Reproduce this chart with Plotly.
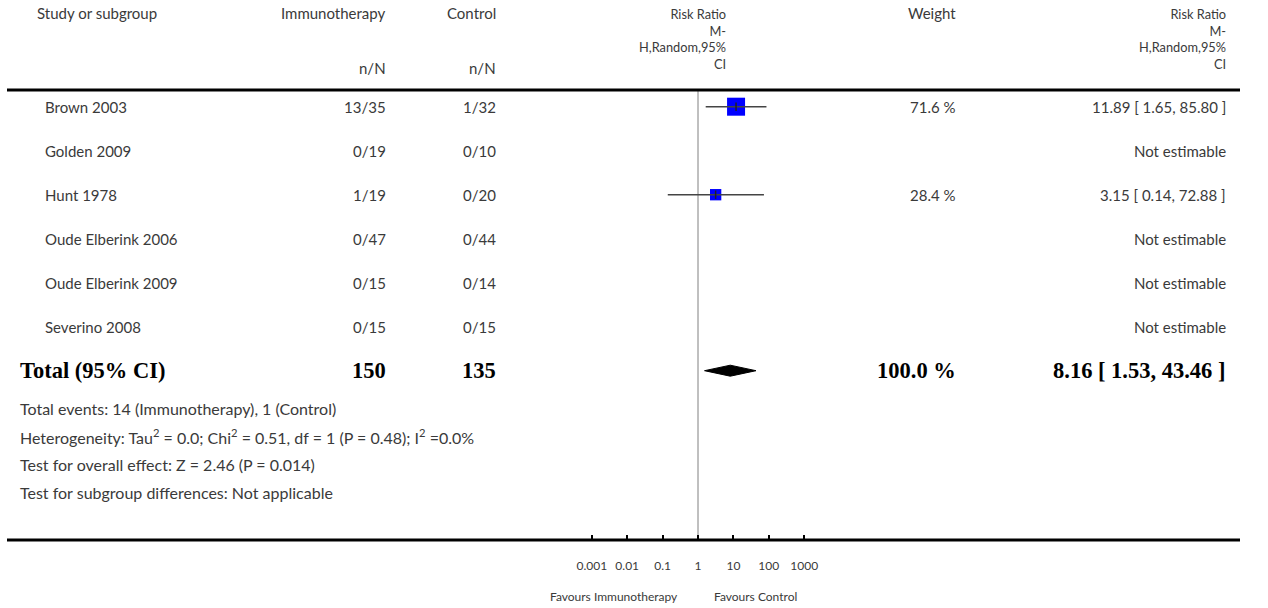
import math
import plotly.graph_objects as go

# ---------------- data ----------------
studies = ["Brown 2003", "Golden 2009", "Hunt 1978", "Oude Elberink 2006",
           "Oude Elberink 2009", "Severino 2008"]
imm_events = [13, 0, 1, 0, 0, 0]
imm_total = [35, 19, 19, 47, 15, 15]
ctrl_events = [1, 0, 0, 0, 0, 0]
ctrl_total = [32, 10, 20, 44, 14, 15]
rr = [11.89, None, 3.15, None, None, None]
rr_lo = [1.65, None, 0.14, None, None, None]
rr_hi = [85.80, None, 72.88, None, None, None]
weights = [71.6, None, 28.4, None, None, None]

total_label = "Total (95% CI)"
total_imm = 150
total_ctrl = 135
total_rr = 8.16
total_lo = 1.53
total_hi = 43.46
total_weight = 100.0

footer_lines = [
    "Total events: 14 (Immunotherapy), 1 (Control)",
    "Heterogeneity: Tau<sup>2</sup> = 0.0; Chi<sup>2</sup> = 0.51, df = 1 (P = 0.48); I<sup>2</sup> =0.0%",
    "Test for overall effect: Z = 2.46 (P = 0.014)",
    "Test for subgroup differences: Not applicable",
]

rr_header = ["Risk Ratio", "M-", "H,Random,95%", "CI"]
tick_vals = [0.001, 0.01, 0.1, 1, 10, 100, 1000]
tick_text = ["0.001", "0.01", "0.1", "1", "10", "100", "1000"]
favours_left = "Favours Immunotherapy"
favours_right = "Favours Control"

# ---------------- layout geometry ----------------
W, H = 1268, 608
FONT = "Lato"
TXT = "#3a3a3a"
FS = 15


def fx(p):
    return p / W


def fy(p):
    return 1 - p / H


ROW0 = 106.7
ROWH = 44.0
PLOT_TOP, PLOT_BOT = 90, 540
y_top = (PLOT_TOP - ROW0) / ROWH
y_bot = (PLOT_BOT - ROW0) / ROWH

X1 = 698
DEC = 35.4
dom = [fx(X1 - 5 * DEC), fx(X1 + 5 * DEC)]

COL_STUDY = 43
COL_STUDY_HDR = 35
COL_TOTAL = 18
COL_IMM = 388
COL_CTRL = 498
COL_RRH = 728
COL_W = 958
COL_RR = 1228

fig = go.Figure()

# null line
fig.add_trace(go.Scatter(x=[1, 1], y=[y_top, y_bot], mode="lines",
                         line=dict(color="#808080", width=1), hoverinfo="skip"))

# squares
sq_x, sq_y, sq_s = [], [], []
for i, (r, w) in enumerate(zip(rr, weights)):
    if r is not None:
        sq_x.append(r)
        sq_y.append(i)
        sq_s.append(18 * math.sqrt(w / 71.6))
fig.add_trace(go.Scatter(x=sq_x, y=sq_y, mode="markers",
                         marker=dict(symbol="square", size=sq_s, color="#0000ff",
                                     opacity=1, line=dict(width=0))))

# CI lines
ci_x, ci_y = [], []
for i, (lo, hi) in enumerate(zip(rr_lo, rr_hi)):
    if lo is not None:
        ci_x += [lo, hi, None]
        ci_y += [i, i, None]
fig.add_trace(go.Scatter(x=ci_x, y=ci_y, mode="lines",
                         line=dict(color="#444444", width=1.6)))
# estimate tick
fig.add_trace(go.Scatter(x=sq_x, y=sq_y, mode="markers",
                         marker=dict(symbol="line-ns", size=6, opacity=1,
                                     line=dict(color="#222222", width=1.5))))

# diamond
ti = len(studies)
dh = 5.5 / ROWH
fig.add_trace(go.Scatter(x=[total_lo, total_rr, total_hi, total_rr, total_lo],
                         y=[ti, ti - dh, ti, ti + dh, ti], mode="lines",
                         fill="toself", fillcolor="black",
                         line=dict(color="black", width=1)))

ann = []


def add(text, x, y, xanchor, yref="paper", size=FS, family=FONT, color=TXT,
        yanchor="middle", **kw):
    ann.append(dict(text=text, x=x, y=y, xref=kw.pop("xref", "paper"), yref=yref,
                    xanchor=xanchor, yanchor=yanchor, showarrow=False,
                    font=dict(family=family, size=size, color=color), **kw))


# header
add("Study or subgroup", fx(COL_STUDY_HDR), fy(13), "left")
add("Immunotherapy", fx(COL_IMM), fy(13), "right")
add("Control", fx(COL_CTRL), fy(13), "right")
add("n/N", fx(COL_IMM), fy(68), "right")
add("n/N", fx(COL_CTRL), fy(68), "right")
hdr = "<br>".join(rr_header)
add(hdr, fx(COL_RRH), fy(4), "right", yanchor="top", size=12.8, align="right")
add(hdr, fx(COL_RR), fy(4), "right", yanchor="top", size=12.8, align="right")
add("Weight", fx(COL_W), fy(13), "right")

# rows
for i, s in enumerate(studies):
    add(s, fx(COL_STUDY), i, "left", yref="y")
    add(f"{imm_events[i]}/{imm_total[i]}", fx(COL_IMM), i, "right", yref="y")
    add(f"{ctrl_events[i]}/{ctrl_total[i]}", fx(COL_CTRL), i, "right", yref="y")
    if rr[i] is not None:
        add(f"{weights[i]:.1f} %", fx(COL_W), i, "right", yref="y")
        add(f"{rr[i]:.2f} [ {rr_lo[i]:.2f}, {rr_hi[i]:.2f} ]", fx(COL_RR), i, "right", yref="y")
    else:
        add("Not estimable", fx(COL_RR), i, "right", yref="y")

# total row
BF = "Liberation Serif"
BS = 22.5
add(f"<b>{total_label}</b>", fx(COL_TOTAL), ti, "left", yref="y", size=BS, family=BF, color="black")
add(f"<b>{total_imm}</b>", fx(COL_IMM), ti, "right", yref="y", size=BS, family=BF, color="black")
add(f"<b>{total_ctrl}</b>", fx(COL_CTRL), ti, "right", yref="y", size=BS, family=BF, color="black")
add(f"<b>{total_weight:.1f} %</b>", fx(COL_W), ti, "right", yref="y", size=BS, family=BF, color="black")
add(f"<b>{total_rr:.2f} [ {total_lo:.2f}, {total_hi:.2f} ]</b>", fx(COL_RR), ti, "right",
    yref="y", size=BS, family=BF, color="black")

for k, line in enumerate(footer_lines):
    add(line, fx(COL_TOTAL), fy(408 + 28.3 * k), "left", size=16)

# favours
add(favours_left, 0, fy(596), "right", xref="x", xshift=-18, size=12)
add(favours_right, 0, fy(596), "left", xref="x", xshift=14, size=12)

shapes = [
    dict(type="line", xref="paper", yref="paper", x0=fx(7), x1=fx(1240),
         y0=fy(90), y1=fy(90), line=dict(color="black", width=3)),
    dict(type="line", xref="paper", yref="paper", x0=fx(7), x1=fx(1240),
         y0=fy(540), y1=fy(540), line=dict(color="black", width=3)),
]

fig.update_layout(
    width=W, height=H, margin=dict(l=0, r=0, t=0, b=0),
    paper_bgcolor="white", plot_bgcolor="rgba(0,0,0,0)",
    showlegend=False, annotations=ann, shapes=shapes,
    xaxis=dict(type="log", range=[-5, 5], domain=dom, tickvals=tick_vals,
               ticktext=tick_text, ticks="inside", ticklen=5, tickwidth=2,
               tickcolor="black", showgrid=False, zeroline=False, showline=False,
               ticklabelstandoff=17, tickfont=dict(family=FONT, size=12, color=TXT),
               fixedrange=True),
    yaxis=dict(range=[y_bot, y_top], domain=[fy(PLOT_BOT), fy(PLOT_TOP)],
               visible=False, fixedrange=True),
)

fig.write_html("out.html")
